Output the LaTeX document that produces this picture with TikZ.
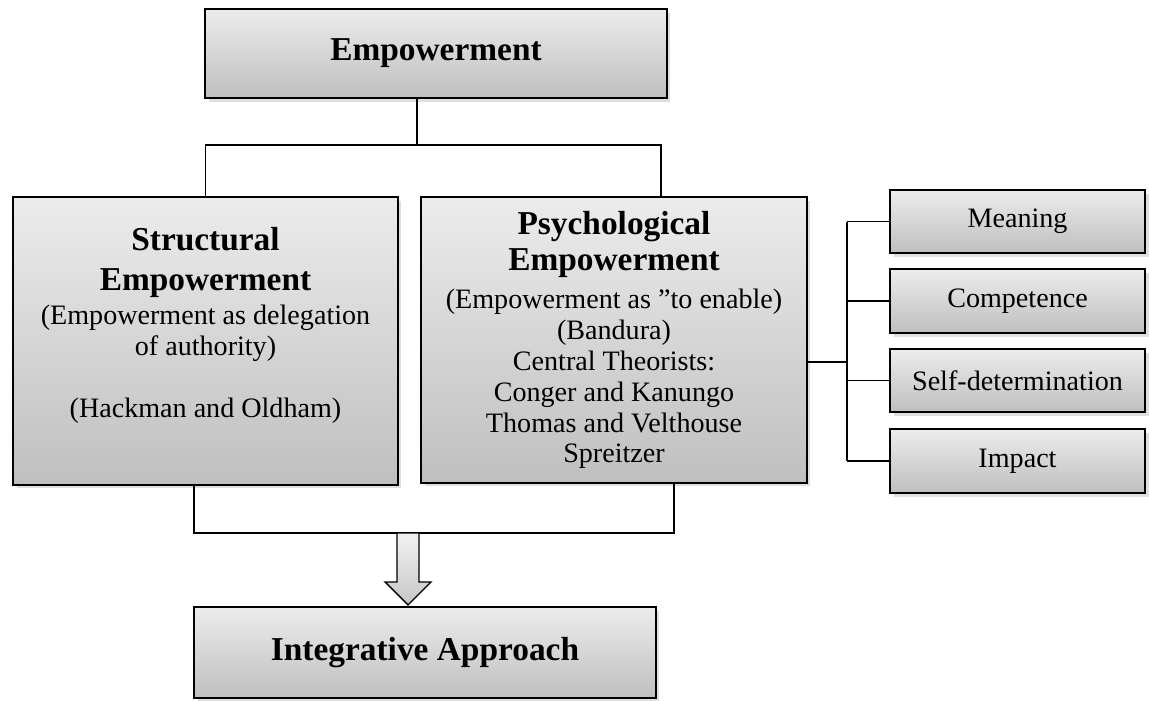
\documentclass[tikz,border=0pt]{standalone}
\usepackage{fontspec}
\setmainfont{Liberation Serif}
\usetikzlibrary{calc,shadows}
\newcommand\hd{\fontsize{19}{21}\selectfont\bfseries}
\tikzset{
	box/.style={draw, line width=1.1pt, top color=gray!15, bottom color=gray!50, align=center, inner sep=0pt,
		drop shadow={opacity=0.25, shadow xshift=2pt, shadow yshift=-2pt},
		font=\fontsize{16}{17.6}\selectfont},
	link/.style={line width=1pt}
}

\begin{document}
\begin{tikzpicture}[x=0.02cm, y=-0.02cm]
			%%%%% START %%%%%
			\useasboundingbox (0, 0) rectangle (1149, 700);
			
			\node[box, minimum width=9.24cm, minimum height=1.78cm] (emp) at (436, 53.5) {\hd Empowerment};
			
			\node[box, minimum width=7.7cm, minimum height=5.76cm] (struct) at (205.5, 341)
				{\hd Structural\\[5pt] \hd Empowerment\\[2pt] (Empowerment as delegation\\ of authority)\\[0.62cm] (Hackman and Oldham)\\[0.12cm]};
			\node[box, minimum width=7.72cm, minimum height=5.72cm] (psych) at (614, 340)
				{\hd Psychological\\[3pt] \hd Empowerment\\[4pt] (Empowerment as ”to enable)\\ (Bandura)\\ Central Theorists:\\ Conger and Kanungo\\ Thomas and Velthouse\\ Spreitzer};
			
			\node[box, minimum width=5.1cm, minimum height=1.26cm] (meaning) at (1017.5, 221.5) {Meaning};
			\node[box, minimum width=5.1cm, minimum height=1.28cm] (competence) at (1017.5, 301) {Competence};
			\node[box, minimum width=5.1cm, minimum height=1.26cm] (selfdet) at (1017.5, 380.5) {Self-determination};
			\node[box, minimum width=5.1cm, minimum height=1.28cm] (impact) at (1017.5, 461) {Impact};
			
			\node[box, minimum width=9.24cm, minimum height=1.82cm] (integ) at (425, 652.5) {\hd Integrative Approach};
			
			% top split
			\coordinate (split) at (417, 145);
			\draw[link] ([xshift=-0.38cm]emp.south) -- (split);
			\draw[link] (struct.north) |- (split) -| ([xshift=0.94cm]psych.north);
			
			% dimensions of psych
			\coordinate (hub) at (847, 362);
			\draw[link] ([yshift=-0.44cm]psych.east) -- (hub);
			\draw[link] (meaning.west -| hub) -- (impact.west -| hub);
			\foreach \d in {meaning, competence, selfdet, impact}
				\draw[link] (\d.west -| hub) -- (\d.west);
			
			% bottom join
			\coordinate (join) at (408, 533);
			\draw[link] ([xshift=-0.23cm]struct.south) |- (join) -| ([xshift=1.2cm]psych.south);
			\draw[line width=0.8pt, top color=gray!10, bottom color=gray!45]
				([xshift=-0.22cm]join) -- ++(0, -0.98cm) -- ++(-0.24cm, 0) -- ($(join)+(0, -1.44cm)$)
				-- ++(0.46cm, 0.46cm) -- ++(-0.24cm, 0) -- ([xshift=0.22cm]join) -- cycle;
			
			%%%%% END %%%%%
\end{tikzpicture}
\end{document}
